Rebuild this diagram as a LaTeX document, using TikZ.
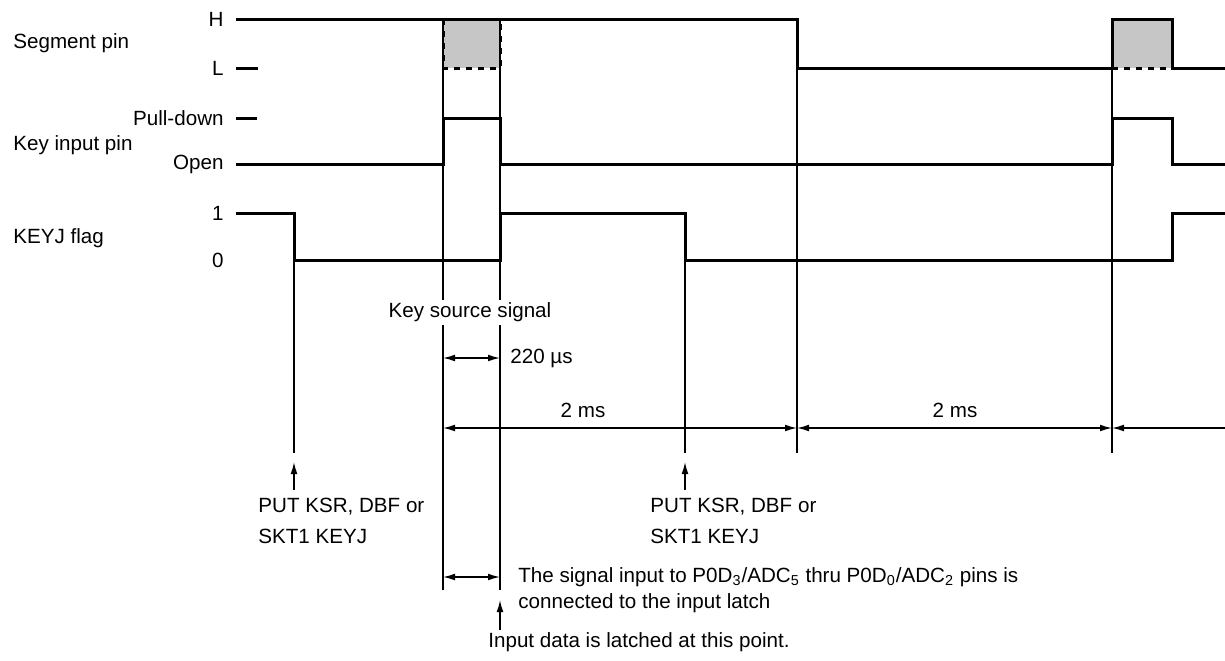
\documentclass[tikz,border=0pt]{standalone}
\usepackage{fontspec}
\setmainfont{Liberation Sans}
\usetikzlibrary{arrows.meta}

\begin{document}
\begin{tikzpicture}[x=0.5pt, y=-0.5pt,
  sig/.style={line width=1.5pt},
  guide/.style={line width=0.7pt},
  dimline/.style={guide, {Latex[length=6pt, width=3.4pt]}-{Latex[length=6pt, width=3.4pt]}},
  upmark/.style={guide, -{Latex[length=6pt, width=3.4pt]}},
  txt/.style={font=\fontsize{10.3}{15.5}\selectfont, inner sep=0pt, align=left},
  lvl/.style={txt, anchor=east},
  shade/.style={fill=gray!45}
]
  \useasboundingbox (0,0) rectangle (1225,660);

  % Row names
  \node[txt, anchor=west] (segname) at (13,43) {Segment pin};
  \node[txt, anchor=west] (keyname) at (13,145) {Key input pin};
  \node[txt, anchor=west] (flagname) at (13,238) {KEYJ flag};

  % Level names
  \node[lvl] (lvlH) at (224,19) {H};
  \node[lvl] (lvlL) at (224,68) {L};
  \node[lvl] (lvlPD) at (224,118) {Pull-down};
  \node[lvl] (lvlOp) at (224,164) {Open};
  \node[lvl] (lvl1) at (224,213) {1};
  \node[lvl] (lvl0) at (224,260) {0};
  \draw[sig] (236,68) -- (258,68);
  \draw[sig] (236,118) -- (257,118);

  % Shaded pulses on the segment pin
  \fill[shade] (443,19) rectangle (500,68);
  \fill[shade] (1112,19) rectangle (1172,68);
  \draw[sig, dashed] (443,19) |- (500,68) -- (500,19);
  \draw[sig, dashed] (1112,68) -- (1172,68);

  % Waveforms
  \draw[sig] (236,19) -| (797,68) -- (1112,68) |- (1172,19) |- (1225,68);
  \draw[sig] (236,164) -| (443,118) -| (500,164) -- (1112,164) |- (1172,118) |- (1225,164);
  \draw[sig] (236,213) -| (294,260) -| (500,213) -| (685,260) -| (1172,213) -- (1225,213);

  % Guide lines
  \draw[guide] (294,260) -- (294,453);
  \draw[guide] (443,19) -- (443,300) (443,325) -- (443,590);
  \draw[guide] (500,19) -- (500,300) (500,325) -- (500,590);
  \draw[guide] (685,260) -- (685,453);
  \draw[guide] (797,19) -- (797,453);
  \draw[guide] (1112,19) -- (1112,453);

  % Timing
  \node[txt] (ksrc) at (470,312) {Key source signal};
  \draw[dimline] (443,358) -- (500,358);
  \node[txt, anchor=west] (t220) at (510,358) {220 µs};
  \draw[dimline] (443,428) -- (797,428);
  \node[txt] (t2a) at (583,410) {2 ms};
  \draw[dimline] (797,428) -- (1112,428);
  \node[txt] (t2b) at (955,410) {2 ms};
  \draw[guide, {Latex[length=6pt, width=3.4pt]}-] (1112,428) -- (1225,428);

  % Instruction marks
  \draw[upmark] (294,490) -- (294,462);
  \node[txt, anchor=north west] (put1) at (258,498) {PUT KSR, DBF or\\SKT1 KEYJ};
  \draw[upmark] (685,490) -- (685,462);
  \node[txt, anchor=north west] (put2) at (650,498) {PUT KSR, DBF or\\SKT1 KEYJ};

  % Latch window
  \draw[dimline] (443,577) -- (500,577);
  \node[txt, anchor=west] (conn1) at (518,577)
    {The signal input to P0D\textsubscript{3}/ADC\textsubscript{5} thru P0D\textsubscript{0}/ADC\textsubscript{2} pins is};
  \node[txt, anchor=west] (conn2) at (518,603) {connected to the input latch};
  \draw[upmark] (500,630) -- (500,600);
  \node[txt, anchor=west] (latch) at (488,642) {Input data is latched at this point.};
\end{tikzpicture}
\end{document}
